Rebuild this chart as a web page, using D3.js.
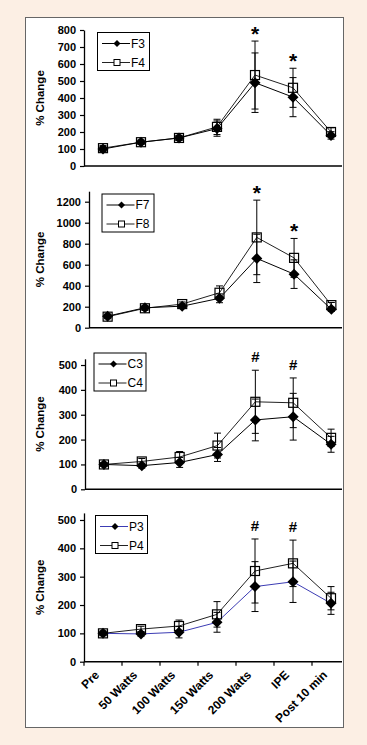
<!DOCTYPE html>
<html><head><meta charset="utf-8">
<script src="https://cdn.jsdelivr.net/npm/d3@7"></script>
<style>html,body{margin:0;padding:0;background:#fcefe4;} svg{display:block}</style>
</head><body><svg id="c" width="367" height="745"></svg>
<script>
// ---- data ----
const categories = ["Pre", "50 Watts", "100 Watts", "150 Watts", "200 Watts", "IPE", "Post 10 min"];

const f3 = [100, 140, 165, 220, 490, 405, 180];
const f3Err = [15, 12, 15, 45, 175, 115, 22];
const f4 = [105, 140, 165, 230, 535, 460, 200];
const f4Err = [15, 12, 15, 45, 200, 115, 25];

const f7 = [110, 190, 205, 280, 660, 510, 175];
const f7Err = [20, 20, 20, 42, 230, 136, 20];
const f8 = [105, 185, 225, 333, 860, 665, 215];
const f8Err = [20, 20, 20, 65, 355, 185, 25];

const c3 = [100, 95, 108, 140, 279, 292, 181];
const c3Err = [8, 10, 20, 28, 84, 94, 32];
const c4 = [100, 112, 130, 176, 352, 348, 207];
const c4Err = [8, 12, 22, 50, 127, 100, 35];

const p3 = [100, 98, 104, 139, 265, 282, 206];
const p3Err = [8, 8, 20, 35, 88, 73, 39];
const p4 = [100, 115, 126, 167, 320, 347, 224];
const p4Err = [8, 10, 21, 45, 113, 82, 41];

const ticks800 = [0, 100, 200, 300, 400, 500, 600, 700, 800];
const ticks1200 = [0, 200, 400, 600, 800, 1000, 1200];
const ticks500 = [0, 100, 200, 300, 400, 500];

const marksF = [{cat: "200 Watts", sym: "*"}, {cat: "IPE", sym: "*"}];
const marksH = [{cat: "200 Watts", sym: "#"}, {cat: "IPE", sym: "#"}];

// ---- layout ----
const FONT = "'Liberation Sans', Arial, sans-serif";
const svg = d3.select("#c");
svg.append("rect").attr("x", 25.5).attr("y", 17.5).attr("width", 318).attr("height", 710)
  .attr("fill", "#fff").attr("stroke", "#666").attr("stroke-width", 1);

const panels = [
  {a: f3, aErr: f3Err, b: f4, bErr: f4Err, names: ["F3", "F4"], yMax: 800, ticks: ticks800,
   left: 84, zero: 166, top: 30, legend: [97, 32], marks: marksF, aColor: "#000", xLabels: false},
  {a: f7, aErr: f7Err, b: f8, bErr: f8Err, names: ["F7", "F8"], yMax: 1300, ticks: ticks1200,
   left: 89, zero: 327.7, top: 191.2, legend: [101.5, 193.5], marks: marksF, aColor: "#000", xLabels: false},
  {a: c3, aErr: c3Err, b: c4, bErr: c4Err, names: ["C3", "C4"], yMax: 525, ticks: ticks500,
   left: 85, zero: 489.3, top: 358.8, legend: [93.5, 352.5], marks: marksH, aColor: "#000", xLabels: false},
  {a: p3, aErr: p3Err, b: p4, bErr: p4Err, names: ["P3", "P4"], yMax: 525, ticks: ticks500,
   left: 84, zero: 661.7, top: 512.9, legend: [95, 515], marks: marksH, aColor: "#3c3cb4", xLabels: true}
];

const diamond = r => `M0,${-r}L${r},0L0,${r}L${-r},0Z`;

panels.forEach(p => {
  const g = svg.append("g");
  const y = d3.scaleLinear().domain([0, p.yMax]).range([p.zero, p.top]);
  const x = d3.scaleBand().domain(categories).range([p.left, 350]).padding(0);
  const cx = c => x(c) + x.bandwidth() / 2;

  // y axis
  const ya = g.append("g").attr("transform", `translate(${p.left},0)`)
    .call(d3.axisLeft(y).tickValues(p.ticks).tickFormat(d3.format("d"))
      .tickSize(4).tickSizeOuter(0).tickPadding(4));
  ya.select(".domain").attr("stroke", "#000").attr("stroke-width", 1.3);
  ya.selectAll(".tick line").attr("stroke", "#000").attr("stroke-width", 1.2);
  ya.selectAll("text").attr("font-family", FONT).attr("font-size", 11).attr("font-weight", "bold").attr("fill", "#000");

  // x axis line
  g.append("line").attr("x1", p.left).attr("x2", 342).attr("y1", p.zero).attr("y2", p.zero)
    .attr("stroke", "#000").attr("stroke-width", 1.5);

  // y title
  g.append("text").attr("transform", `translate(44,${(p.zero + p.top) / 2}) rotate(-90)`)
    .attr("text-anchor", "middle").attr("font-family", FONT).attr("font-size", 11.5)
    .attr("font-weight", "bold").text("% Change");

  if (p.xLabels) {
    g.selectAll(".xt").data(categories).join("line")
      .attr("x1", c => x(c)).attr("x2", c => x(c))
      .attr("y1", p.zero).attr("y2", p.zero + 4).attr("stroke", "#000").attr("stroke-width", 1.2);
    g.selectAll(".xl").data(categories).join("text")
      .attr("transform", c => `translate(${cx(c) - 3},${p.zero + 14}) rotate(-45)`)
      .attr("text-anchor", "end").attr("font-family", FONT).attr("font-size", 12)
      .attr("font-weight", "bold").text(c => c);
  }

  const line = d3.line().x((v, i) => cx(categories[i])).y(v => y(v));
  g.append("path").datum(p.b).attr("d", line).attr("fill", "none").attr("stroke", "#222").attr("stroke-width", 1);
  g.append("path").datum(p.a).attr("d", line).attr("fill", "none").attr("stroke", p.aColor).attr("stroke-width", 1);

  // error bars
  [[p.b, p.bErr], [p.a, p.aErr]].forEach(([vals, errs]) => {
    const eb = g.append("g");
    vals.forEach((v, i) => {
      const xx = cx(categories[i]);
      const y1 = y(v + errs[i]), y2 = y(v - errs[i]);
      eb.append("line").attr("x1", xx).attr("x2", xx).attr("y1", y1).attr("y2", y2).attr("stroke", "#000").attr("stroke-width", 1);
      [y1, y2].forEach(yy => eb.append("line").attr("x1", xx - 3.5).attr("x2", xx + 3.5)
        .attr("y1", yy).attr("y2", yy).attr("stroke", "#000").attr("stroke-width", 1));
    });
  });

  // markers
  g.selectAll(".sq").data(p.b).join("rect")
    .attr("x", (v, i) => cx(categories[i]) - 4.5).attr("y", v => y(v) - 4.5)
    .attr("width", 9).attr("height", 9).attr("fill", "none").attr("stroke", "#000").attr("stroke-width", 1.2);
  g.selectAll(".dm").data(p.a).join("path")
    .attr("d", diamond(5.5)).attr("transform", (v, i) => `translate(${cx(categories[i])},${y(v)})`)
    .attr("fill", "#000");

  // significance marks
  p.marks.forEach(m => {
    const i = categories.indexOf(m.cat);
    const topVal = Math.max(p.a[i] + p.aErr[i], p.b[i] + p.bErr[i]);
    const isStar = m.sym === "*";
    g.append("text").attr("x", cx(m.cat)).attr("y", y(topVal) - (isStar ? 0 : 8))
      .attr("text-anchor", "middle").attr("font-family", FONT).attr("font-weight", "bold")
      .attr("font-size", isStar ? 21 : 15).text(m.sym);
  });

  // legend
  const [lx, ly] = p.legend;
  const lg = g.append("g");
  lg.append("rect").attr("x", lx + 0.5).attr("y", ly + 0.5).attr("width", 52).attr("height", 38)
    .attr("fill", "#fff").attr("stroke", "#000").attr("stroke-width", 1);
  [[p.names[0], p.aColor, "d"], [p.names[1], "#222", "s"]].forEach(([nm, col, kind], k) => {
    const yy = ly + 11.5 + k * 19;
    lg.append("line").attr("x1", lx + 5).attr("x2", lx + 33).attr("y1", yy).attr("y2", yy)
      .attr("stroke", col).attr("stroke-width", 1);
    if (kind === "d") {
      lg.append("path").attr("d", diamond(3.5)).attr("transform", `translate(${lx + 20},${yy})`).attr("fill", "#000");
    } else {
      lg.append("rect").attr("x", lx + 17).attr("y", yy - 3).attr("width", 6).attr("height", 6)
        .attr("fill", "#fff").attr("stroke", "#000").attr("stroke-width", 1);
    }
    lg.append("text").attr("x", lx + 34).attr("y", yy + 4).attr("font-family", FONT)
      .attr("font-size", 12).text(nm);
  });
});
</script></body></html>
